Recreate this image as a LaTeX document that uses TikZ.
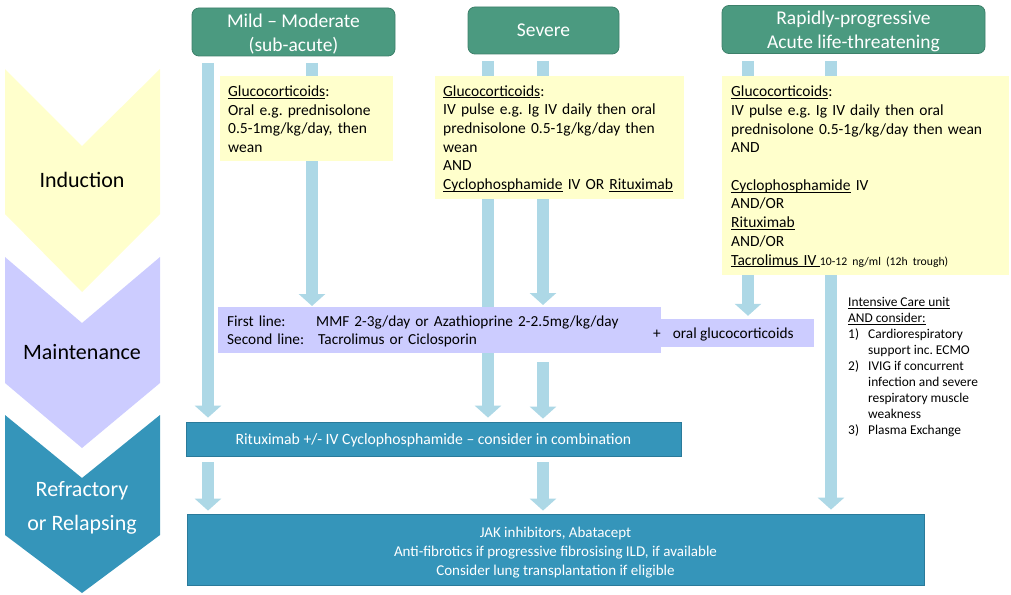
\documentclass[tikz,border=0pt]{standalone}
\usepackage{fontspec}
\setmainfont{Carlito}
\usetikzlibrary{arrows.meta,calc,backgrounds}
\frenchspacing
\newsavebox{\myulbox}
\newcommand{\myul}[1]{\leavevmode\sbox{\myulbox}{#1}\rlap{\rule[-2.3pt]{\wd\myulbox}{1pt}}\usebox{\myulbox}}
% lower a block of lines visually without changing its size
\newcommand{\dnl}[2]{\raisebox{-#1}[\height][\depth]{\begin{tabular}{@{}l@{}}#2\end{tabular}}}
\newcommand{\dnc}[2]{\raisebox{-#1}[\height][\depth]{\begin{tabular}{@{}c@{}}#2\end{tabular}}}
\definecolor{hdrgreen}{HTML}{4B9A80}
\definecolor{hdrline}{HTML}{3D806A}
\definecolor{boxyellow}{HTML}{FFFFCC}
\definecolor{boxpurple}{HTML}{CCCCFF}
\definecolor{boxteal}{HTML}{3595BA}
\definecolor{tealline}{HTML}{2A7A9A}
\definecolor{arrowblue}{HTML}{ADD8E6}
\newcommand{\hdrfont}{\fontsize{19.5}{24}\selectfont}
\newcommand{\boxfont}{\fontsize{15.5}{18.7}\selectfont}
\newcommand{\purfont}{\fontsize{15.3}{18}\selectfont}
\newcommand{\ritfont}{\fontsize{15.7}{18}\selectfont}
\newcommand{\jakfont}{\fontsize{15}{19}\selectfont}
\newcommand{\phasefont}{\fontsize{22}{34}\selectfont}
\newcommand{\smallnote}{\fontsize{11.7}{14}\selectfont}
\newcommand{\icufont}{\fontsize{13.4}{16}\selectfont}
\begin{document}
\begin{tikzpicture}[x=1pt,y=-1pt,
  hdr/.style={draw=hdrline, line width=0.8pt, fill=hdrgreen, rounded corners=7pt, text=white, font=\hdrfont, align=center, inner sep=0pt},
  ybox/.style={fill=boxyellow, anchor=north west, align=left, inner xsep=8pt, inner ysep=0pt, font=\boxfont},
  pbox/.style={fill=boxpurple, inner sep=0pt, font=\purfont},
  tbox/.style={fill=boxteal, draw=tealline, line width=0.8pt, text=white, align=center, inner sep=0pt},
  phase/.style={font=\phasefont, align=center},
  bigarrow/.style={draw=arrowblue, line width=12pt, -{Triangle[width=26pt,length=12pt]}}]
\useasboundingbox (0,0) rectangle (1011,594);
% phase chevrons
\fill[boxyellow] (5,69) -- (82,146) -- (160,69) -- (160,214) -- (82,292) -- (5,214) -- cycle;
\fill[boxpurple] (5,257) -- (82,323) -- (160,257) -- (160,383) -- (82,448) -- (5,383) -- cycle;
\fill[boxteal] (5,415) -- (82,478) -- (160,415) -- (160,535) -- (82,593) -- (5,535) -- cycle;
\node[phase] (phInd) at (82,180) {Induction};
\node[phase] (phMain) at (82,352) {Maintenance};
\node[phase, text=white] (phRef) at (82,508) {Refractory\\or Relapsing};
% headers
\node[hdr, minimum width=203pt, minimum height=48pt] (hMild) at (293.5,32) {\dnc{3pt}{Mild -- Moderate\\(sub-acute)}};
\node[hdr, minimum width=151pt, minimum height=47pt] (hSev) at (543.5,30.5) {\dnc{1pt}{Severe}};
\node[hdr, minimum width=263pt, minimum height=47pt] (hRap) at (853.5,29.5) {\dnc{2.5pt}{Rapidly-progressive\\Acute life-threatening}};
% induction boxes
\node[ybox, text width=157pt, minimum height=85pt] (yMild) at (220,76) {\dnl{2pt}{\myul{Glucocorticoids}:\\Oral e.g. prednisolone\\0.5-1mg/kg/day, then\\wean}};
\node[ybox, text width=233pt, minimum height=123pt] (ySev) at (435,76) {\dnl{1.5pt}{\myul{Glucocorticoids}:\\IV pulse e.g. Ig IV daily then oral\\prednisolone 0.5-1g/kg/day then\\wean\\AND\\\myul{Cyclophosphamide} IV OR \myul{Rituximab}}};
\node[ybox, inner xsep=9pt, text width=269pt, minimum height=199pt] (yRap) at (722,76) {\dnl{1.5pt}{\myul{Glucocorticoids}:\\IV pulse e.g. Ig IV daily then oral\\prednisolone 0.5-1g/kg/day then wean\\AND\\ \\\myul{Cyclophosphamide} IV\\AND/OR\\\myul{Rituximab}\\AND/OR\\\myul{Tacrolimus IV\hspace{3.5pt}}{\smallnote 10-12 ng/ml (12h trough)}}};
% maintenance
\node[pbox, minimum width=153pt, minimum height=28pt] (mext) at (737.5,333) {};
\node[pbox, anchor=north west, align=left, inner xsep=9pt, text width=425pt, minimum height=46pt] (maint) at (218,307) {\dnl{2pt}{\makebox[89pt][l]{First line:}MMF 2-3g/day or Azathioprine 2-2.5mg/kg/day\\\makebox[91pt][l]{Second line:}Tacrolimus or Ciclosporin}};
\node[font=\purfont, anchor=west, inner sep=0pt] (plusgc) at (653,334) {+\hspace{12pt}oral glucocorticoids};
% refractory
\node[tbox, font=\ritfont, minimum width=495pt, minimum height=34pt] (ritux) at (433.5,439) {\dnc{2pt}{Rituximab +/- IV Cyclophosphamide -- consider in combination}};
\node[tbox, font=\jakfont, minimum width=737pt, minimum height=71pt] (jak) at (555.5,549.5) {\dnc{3pt}{JAK inhibitors, Abatacept\\Anti-fibrotics if progressive fibrosising ILD, if available\\Consider lung transplantation if eligible}};
% ICU note
\node[anchor=north west, font=\icufont, align=left, inner sep=0pt] (icu) at (848,297) {\myul{Intensive Care unit}\\\myul{AND consider:}\\\makebox[20pt][l]{1)}Cardiorespiratory\\\hspace*{20pt}support inc. ECMO\\\makebox[20pt][l]{2)}IVIG if concurrent\\\hspace*{20pt}infection and severe\\\hspace*{20pt}respiratory muscle\\\hspace*{20pt}weakness\\\makebox[20pt][l]{3)}Plasma Exchange};
% arrow start points
\coordinate (mL0) at (208,63);
\coordinate (mR0) at (312,63);
\coordinate (sL0) at (488,61);
\coordinate (sR0) at (543,61);
\coordinate (sR1) at (543,362);
\coordinate (rL0) at (748,61);
\coordinate (rR0) at (831,61);
\coordinate (bL0) at (208,462);
\coordinate (bR0) at (543,462);
\begin{scope}[on background layer]
\draw[bigarrow] (mL0) -- ($(mL0 |- ritux.north)+(0,-4)$);
\draw[bigarrow] (mR0) -- ($(mR0 |- maint.north)+(0,-1)$);
\draw[bigarrow] (sL0) -- ($(sL0 |- ritux.north)+(0,-4)$);
\draw[bigarrow] (sR0) -- ($(sR0 |- maint.north)+(0,-2)$);
\draw[bigarrow] (sR1) -- ($(sR1 |- ritux.north)+(0,-3)$);
\draw[bigarrow] (rL0) -- ($(rL0 |- mext.north)+(0,-3)$);
\draw[bigarrow] (rR0) -- ($(rR0 |- jak.north)+(0,-4)$);
\draw[bigarrow] (bL0) -- ($(bL0 |- jak.north)+(0,-3)$);
\draw[bigarrow] (bR0) -- ($(bR0 |- jak.north)+(0,-3)$);
\end{scope}
\end{tikzpicture}
\end{document}
